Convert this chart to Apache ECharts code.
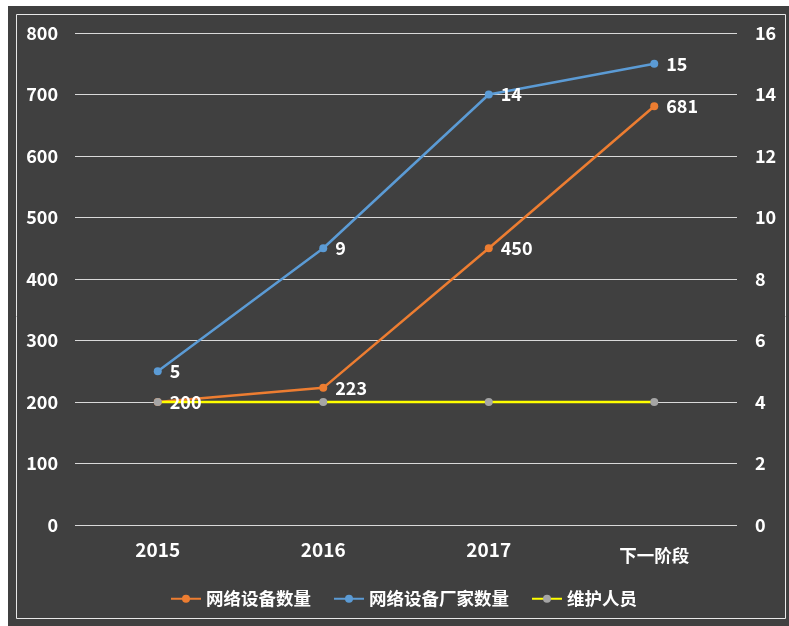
<!DOCTYPE html>
<html><head><meta charset="utf-8">
<script src="https://cdn.jsdelivr.net/npm/echarts@6/dist/echarts.min.js"></script>
<style>html,body{margin:0;padding:0;background:#fff}#c{width:789px;height:626px}</style>
</head><body><div id="c"></div>
<script>
const categories = ['2015', '2016', '2017', '下一阶段'];
const deviceCount = [200, 223, 450, 681];
const vendorCount = [5, 9, 14, 15];
const staff = [200, 200, 200, 200];
const leftTicks = {min: 0, max: 800, interval: 100};
const rightTicks = {min: 0, max: 16, interval: 2};

const font = '"Noto Sans CJK SC", "Noto Sans", sans-serif';
const chart = echarts.init(document.getElementById('c'));
const lbl = {show: true, position: 'right', color: '#fff', fontWeight: 'bold', fontSize: 18, fontFamily: font, distance: 8};
chart.setOption({
  backgroundColor: '#ffffff',
  animation: false,
  graphic: [
    {type: 'rect', z: -10, shape: {x: 8, y: 6, width: 781, height: 620}, style: {fill: '#404040'}},
    {type: 'rect', z: -9, shape: {x: 16.5, y: 14.5, width: 769, height: 604}, style: {fill: 'none', stroke: '#e8e8e8', lineWidth: 1}}
  ],
  grid: {left: 75, right: 52, top: 33, bottom: 101},
  legend: {
    top: 585, left: 165, itemGap: 22, itemWidth: 30, itemHeight: 10,
    textStyle: {color: '#fff', fontWeight: 'bold', fontSize: 17.5, fontFamily: font},
    data: ['网络设备数量', '网络设备厂家数量', '维护人员']
  },
  xAxis: {
    type: 'category', data: categories, boundaryGap: true,
    axisLine: {show: false}, axisTick: {show: false},
    axisLabel: {
      color: '#fff', fontWeight: 'bold', fontSize: 19, fontFamily: font, margin: 15,
      formatter: function (v) { return /^\d+$/.test(v) ? v : '{cn|' + v + '}'; },
      rich: {cn: {color: '#fff', fontWeight: 'bold', fontSize: 17.5, fontFamily: font, padding: [7, 0, 0, 0]}}
    }
  },
  yAxis: [
    {type: 'value', min: leftTicks.min, max: leftTicks.max, interval: leftTicks.interval,
     axisLine: {show: false}, axisTick: {show: false},
     axisLabel: {color: '#fff', fontWeight: 'bold', fontSize: 18, fontFamily: font, margin: 17},
     splitLine: {lineStyle: {color: '#d9d9d9', width: 1}}},
    {type: 'value', min: rightTicks.min, max: rightTicks.max, interval: rightTicks.interval,
     axisLine: {show: false}, axisTick: {show: false},
     axisLabel: {color: '#fff', fontWeight: 'bold', fontSize: 18, fontFamily: font, margin: 18},
     splitLine: {show: false}}
  ],
  series: [
    {name: '网络设备数量', type: 'line', data: deviceCount, yAxisIndex: 0,
     symbol: 'circle', symbolSize: 8,
     lineStyle: {color: '#ed7d31', width: 2.5}, itemStyle: {color: '#ed7d31'}, label: lbl},
    {name: '网络设备厂家数量', type: 'line', data: vendorCount, yAxisIndex: 1,
     symbol: 'circle', symbolSize: 8,
     lineStyle: {color: '#5b9bd5', width: 2.5}, itemStyle: {color: '#5b9bd5'}, label: lbl},
    {name: '维护人员', type: 'line', data: staff, yAxisIndex: 0,
     symbol: 'circle', symbolSize: 8,
     lineStyle: {color: '#ffff00', width: 2.5}, itemStyle: {color: '#a5a5a5'}}
  ]
});
</script></body></html>
